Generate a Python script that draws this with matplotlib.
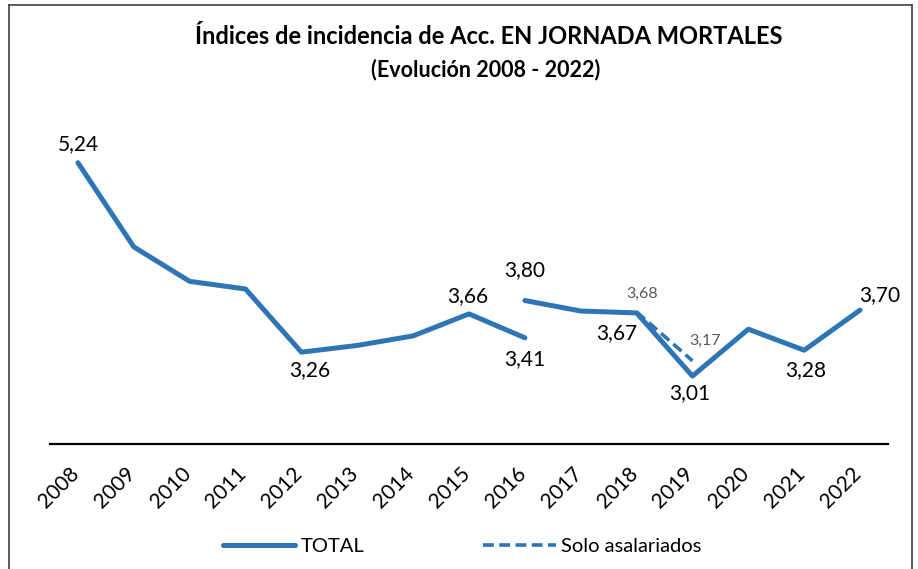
import numpy as np
import matplotlib.pyplot as plt
from matplotlib.lines import Line2D
from matplotlib.transforms import ScaledTranslation

plt.rcParams['font.family'] = ['Lato', 'DejaVu Sans']

years = list(range(2008, 2023))
# serie total: dos tramos, con cambio de metodologia en 2016
years_a = [2008, 2009, 2010, 2011, 2012, 2013, 2014, 2015, 2016]
total_a = [5.24, 4.36, 4.00, 3.92, 3.26, 3.33, 3.43, 3.66, 3.41]
years_b = [2016, 2017, 2018, 2019, 2020, 2021, 2022]
total_b = [3.80, 3.69, 3.67, 3.01, 3.50, 3.28, 3.70]
years_asal = [2018, 2019]
asalariados = [3.68, 3.17]

blue = '#2E75B6'

fig = plt.figure(figsize=(9.18, 5.69), dpi=100)
ax = fig.add_axes([50/918, 1-444/569, 838/918, (444-90)/569])

ax.plot(years_a, total_a, color=blue, linewidth=3.6, solid_capstyle='round', label='TOTAL')
ax.plot(years_b, total_b, color=blue, linewidth=3.6, solid_capstyle='round')
ax.plot(years_asal, asalariados, color=blue, linewidth=2.6, linestyle=(0, (3, 1.5)),
        label='Solo asalariados')

# etiquetas de datos (valor, desplazamiento en pixeles)
labels_total = [
    (2008, 5.24, 0, 19), (2012, 3.26, 8, -18), (2015, 3.66, -1, 18),
    (2016, 3.41, 0, -21), (2016, 3.80, 0, 30), (2018, 3.67, -20, -20),
    (2019, 3.01, -3, -17), (2021, 3.28, 1, -20), (2022, 3.70, 20, 15),
]
for x, y, dx, dy in labels_total:
    ax.annotate(f"{y:.2f}".replace('.', ','), (x, y), xytext=(dx, dy),
                textcoords='offset pixels', ha='center', va='center',
                fontsize=15, color='black')

labels_asal = [(2018, 3.68, 5, 18), (2019, 3.17, 13, 20)]
for x, y, dx, dy in labels_asal:
    ax.annotate(f"{y:.2f}".replace('.', ','), (x, y), xytext=(dx, dy),
                textcoords='offset pixels', ha='center', va='center',
                fontsize=11.5, color='#595959')

ax.set_xlim(2007.5, 2022.5)
ax.set_ylim(2.3, 6.0)
ax.set_yticks([])
ax.set_xticks(years)
ax.set_xticklabels([str(y) for y in years], rotation=45, ha='right', fontsize=15)
ax.tick_params(axis='x', length=0, pad=14)
shift = ScaledTranslation(5/100, 0, fig.dpi_scale_trans)
for lbl in ax.get_xticklabels():
    lbl.set_transform(lbl.get_transform() + shift)

for s in ['top', 'left', 'right']:
    ax.spines[s].set_visible(False)
ax.spines['bottom'].set_linewidth(1.6)
ax.spines['bottom'].set_color('black')

fig.text(489/918, 1-37/569, 'Índices de incidencia de Acc. EN JORNADA MORTALES',
         ha='center', va='center', fontsize=17, fontweight='bold')
fig.text(486/918, 1-70/569, '(Evolución 2008 - 2022)',
         ha='center', va='center', fontsize=15.5, fontweight='bold')

fig.legend(loc='center', bbox_to_anchor=(462/918, 1-546/569), ncol=2, frameon=False,
           fontsize=14.5, handlelength=3.6, columnspacing=5.9, handletextpad=0.25)

# marco del grafico
for xs, ys in [([9/918, 9/918], [0, 1-5/569]), ([9/918, 912/918], [1-5/569, 1-5/569]),
               ([912/918, 912/918], [1-5/569, 0])]:
    fig.add_artist(Line2D(xs, ys, color='#404040', linewidth=1.2, transform=fig.transFigure))

plt.savefig('out.png', dpi=100)
